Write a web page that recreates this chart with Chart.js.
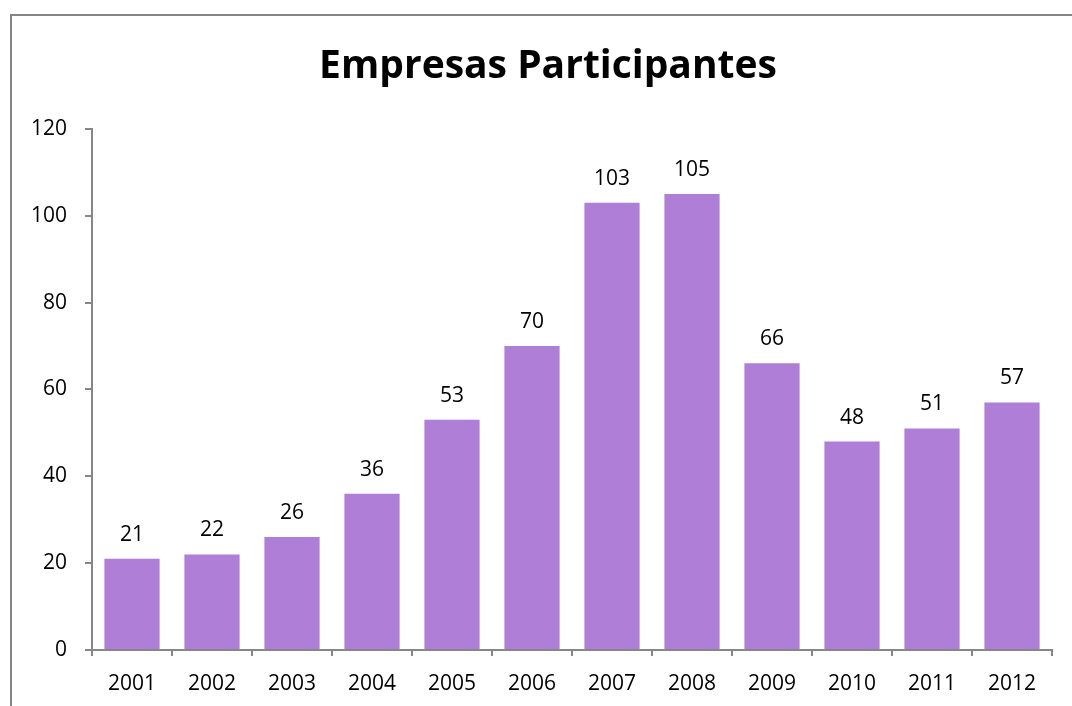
<!DOCTYPE html>
<html>
<head>
<meta charset="utf-8">
<script src="https://cdn.jsdelivr.net/npm/chart.js@4/dist/chart.umd.min.js"></script>
<style>
    html, body { margin: 0; padding: 0; background: #fff; overflow: hidden; }
    #frame {
        position: absolute; left: 10px; top: 14px;
        width: 1090px; height: 720px;
        border: 2px solid #868686;
    }
    #wrap { position: absolute; left: 0; top: 0; width: 1072px; height: 690px; }
</style>
</head>
<body>
<div id="frame">
    <div id="wrap"><canvas id="chart"></canvas></div>
</div>
<script>
const years = ['2001', '2002', '2003', '2004', '2005', '2006', '2007', '2008', '2009', '2010', '2011', '2012'];
const empresas = [21, 22, 26, 36, 53, 70, 103, 105, 66, 48, 51, 57];
const yTicks = [0, 20, 40, 60, 80, 100, 120];

const FONT = '"Open Sans", Lato, sans-serif';
const AXIS_GRAY = '#868686';

// value labels above each bar, and center the title on the whole canvas
const barLabels = {
    id: 'barLabels',
    afterLayout(chart) {
        if (chart.titleBlock) {
            chart.titleBlock.left = 0;
            chart.titleBlock.right = chart.width;
        }
    },
    afterDatasetsDraw(chart) {
        const ctx = chart.ctx;
        const meta = chart.getDatasetMeta(0);
        ctx.save();
        ctx.font = '21px ' + FONT;
        ctx.fillStyle = '#000';
        ctx.textAlign = 'center';
        ctx.textBaseline = 'alphabetic';
        meta.data.forEach((bar, i) => {
            ctx.fillText(empresas[i], bar.x, bar.y - 18);
        });
        ctx.restore();
    }
};

new Chart(document.getElementById('chart'), {
    type: 'bar',
    data: {
        labels: years,
        datasets: [{
            label: 'Empresas Participantes',
            data: empresas,
            backgroundColor: '#af7fd7',
            borderWidth: 0,
            categoryPercentage: 1,
            barPercentage: 0.69
        }]
    },
    options: {
        responsive: true,
        maintainAspectRatio: false,
        animation: false,
        layout: { padding: { left: 0, right: 32, top: 0, bottom: 0 } },
        plugins: {
            legend: { display: false },
            tooltip: { enabled: false },
            title: {
                display: true,
                text: 'Empresas Participantes',
                color: '#000',
                font: { family: FONT, size: 39, weight: 'bold' },
                padding: { top: 27, bottom: 39 }
            }
        },
        scales: {
            x: {
                offset: true,
                grid: {
                    offset: true,
                    drawOnChartArea: false,
                    color: AXIS_GRAY,
                    tickLength: 6,
                    lineWidth: 2
                },
                border: { color: AXIS_GRAY, width: 2 },
                ticks: {
                    color: '#000',
                    font: { family: FONT, size: 21 },
                    padding: 15,
                    maxRotation: 0
                },
                afterFit(scale) { scale.height = 56; }
            },
            y: {
                min: 0,
                max: 120,
                afterBuildTicks(scale) { scale.ticks = yTicks.map(v => ({ value: v })); },
                grid: {
                    drawOnChartArea: false,
                    color: AXIS_GRAY,
                    tickLength: 7,
                    lineWidth: 2
                },
                border: { color: AXIS_GRAY, width: 2 },
                ticks: {
                    color: '#000',
                    font: { family: FONT, size: 21 },
                    padding: 18
                },
                afterFit(scale) { scale.width = 80; }
            }
        }
    },
    plugins: [barLabels]
});
</script>
</body>
</html>
